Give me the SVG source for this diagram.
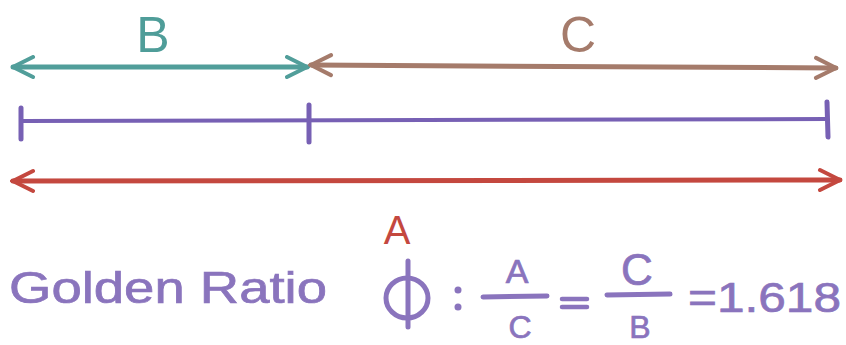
<svg xmlns="http://www.w3.org/2000/svg" width="846" height="345" viewBox="0 0 846 345">
<style>
.t{font-family:"Liberation Sans","DejaVu Sans",sans-serif}
.p{fill:#8a74bd;stroke:#8a74bd;stroke-width:0.7}
.ln{fill:none;stroke-linecap:round;stroke-linejoin:round}
</style>
<defs>
<marker id="ah" viewBox="0 0 10 10" refX="9" refY="5" markerWidth="5" markerHeight="5" orient="auto-start-reverse" markerUnits="strokeWidth">
<path d="M1,1 L9,5 L1,9" fill="none" stroke="context-stroke" stroke-width="1.6" stroke-linecap="round"/>
</marker>
</defs>
<rect width="846" height="345" fill="#ffffff"/>
<g id="connectors">
<line class="ln" x1="13" y1="67" x2="307" y2="67" stroke="#519e9a" stroke-width="5" marker-start="url(#ah)" marker-end="url(#ah)"/>
<line class="ln" x1="311" y1="65" x2="836" y2="68" stroke="#a57b6b" stroke-width="5" marker-start="url(#ah)" marker-end="url(#ah)"/>
<line class="ln" x1="13" y1="181" x2="840" y2="180" stroke="#c4483f" stroke-width="5" marker-start="url(#ah)" marker-end="url(#ah)"/>
</g>
<g id="segment">
<line class="ln" x1="21" y1="121" x2="827" y2="119" stroke="#7760b4" stroke-width="4"/>
<line class="ln" x1="21" y1="108" x2="21" y2="139" stroke="#7760b4" stroke-width="5"/>
<line class="ln" x1="309" y1="105" x2="309" y2="142" stroke="#7760b4" stroke-width="5"/>
<line class="ln" x1="827" y1="102" x2="828" y2="137" stroke="#7760b4" stroke-width="5"/>
</g>
<g id="label-B"><text class="t" x="153" y="52" font-size="50" fill="#4f9d99" text-anchor="middle">B</text></g>
<g id="label-C"><text class="t" x="578" y="52" font-size="50" fill="#a57b6b" text-anchor="middle">C</text></g>
<g id="label-A"><text class="t" x="397" y="244" font-size="40" fill="#c4483f" text-anchor="middle">A</text></g>
<g id="formula">
<text class="t p" x="9" y="303" font-size="44" textLength="318" lengthAdjust="spacingAndGlyphs">Golden Ratio</text>
<ellipse cx="407" cy="298" rx="21" ry="20" fill="none" stroke="#8a74bd" stroke-width="5"/>
<line x1="408" y1="261" x2="408" y2="327" stroke="#8a74bd" stroke-width="5" stroke-linecap="round"/>
<circle cx="458" cy="290" r="3.5" fill="#8a74bd"/>
<circle cx="458" cy="307" r="3.5" fill="#8a74bd"/>
<text class="t p" x="517" y="283" font-size="34" text-anchor="middle">A</text>
<line x1="483" y1="297" x2="547" y2="296" stroke="#8a74bd" stroke-width="5" stroke-linecap="round"/>
<text class="t p" x="520" y="338" font-size="32" text-anchor="middle">C</text>
<line x1="562" y1="299" x2="587" y2="299" stroke="#8a74bd" stroke-width="4.5" stroke-linecap="round"/>
<line x1="562" y1="307" x2="587" y2="307" stroke="#8a74bd" stroke-width="4.5" stroke-linecap="round"/>
<text class="t p" x="637" y="285" font-size="44" text-anchor="middle">C</text>
<line x1="607" y1="295" x2="670" y2="294" stroke="#8a74bd" stroke-width="5" stroke-linecap="round"/>
<text class="t p" x="640" y="338" font-size="32" text-anchor="middle">B</text>
<text class="t p" x="688" y="312" font-size="42" textLength="153" lengthAdjust="spacingAndGlyphs">=1.618</text>
</g>
</svg>
